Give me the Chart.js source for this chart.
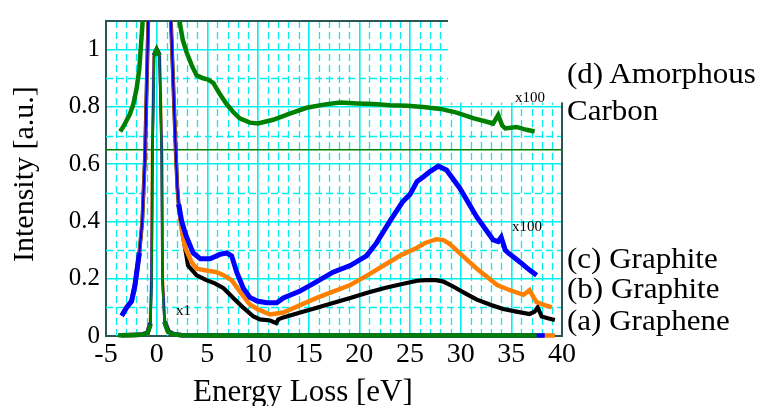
<!DOCTYPE html>
<html><head><meta charset="utf-8">
<script src="https://cdn.jsdelivr.net/npm/chart.js@4"></script>
<style>
html,body{margin:0;padding:0;background:#fff;}
#wrap{position:relative;width:760px;height:406px;overflow:hidden;font-family:"Liberation Serif","Times New Roman",serif;color:#000;}
canvas{position:absolute;left:0;top:0;}
.lbl{position:absolute;white-space:nowrap;line-height:1;}
.big{font-size:29px;transform:scaleX(1.07);transform-origin:0 0;}
.small{font-size:15px;}
</style></head><body>
<div id="wrap">
<canvas id="c" width="760" height="406"></canvas>
<div class="lbl" style="left:8.2px;top:262px;font-size:30px;transform-origin:0 0;transform:rotate(-90deg);">Intensity [a.u.]</div>
<div class="lbl" style="left:193px;top:375px;font-size:31px;">Energy Loss [eV]</div>
<div class="lbl big" style="left:567px;top:58.7px;">(d) Amorphous</div>
<div class="lbl big" style="left:567px;top:95.7px;">Carbon</div>
<div class="lbl big" style="left:567px;top:243.7px;">(c) Graphite</div>
<div class="lbl big" style="left:567px;top:273.7px;">(b) Graphite</div>
<div class="lbl big" style="left:567px;top:305.7px;">(a) Graphene</div>
<div class="lbl small" style="left:515px;top:90.4px;">x100</div>
<div class="lbl small" style="left:512px;top:219.4px;">x100</div>
<div class="lbl small" style="left:176px;top:303.4px;">x1</div>
</div>
<script>
// ---------- data (energy loss in eV, intensity in a.u. as plotted) ----------
const energyC = [-3.45,-2.96,-2.47,-2.14,-1.71,-1.42,-1.15,-0.83,0.3,1.41,1.9,2.04,2.17,2.47,2.9,3.6,4.3,5.26,6.25,6.9,7.4,7.9,8.55,9.2,9.9,10.86,11.85,12.5,14.1,15.8,17.4,19.1,20.7,21.7,23.0,24.3,25.0,25.7,26.3,27.0,27.8,28.6,29.9,31.6,33.2,33.7,34.0,34.4,34.7,35.9,36.8,37.5];
const graphiteC = [0.071,0.10,0.122,0.178,0.29,0.40,0.63,1.1,2.5,1.1,0.63,0.52,0.46,0.40,0.35,0.29,0.27,0.27,0.285,0.29,0.28,0.223,0.167,0.135,0.122,0.116,0.116,0.133,0.156,0.19,0.223,0.246,0.28,0.325,0.40,0.47,0.494,0.54,0.555,0.575,0.593,0.58,0.517,0.415,0.336,0.33,0.345,0.30,0.29,0.257,0.23,0.212];

const energyB = [-3.45,-2.96,-2.47,-2.14,-1.71,-1.42,-1.15,-0.83,0.3,1.41,1.9,2.04,2.17,2.47,2.8,3.46,3.95,4.9,5.9,6.6,7.4,8.2,9.2,10.0,11.2,12.5,14.0,15.8,17.4,19.1,20.7,22.4,24.0,25.7,26.5,27.6,28.3,28.9,30.2,31.6,33.6,35.0,36.2,36.8,37.2,37.5,38.3,39.0];
const graphiteB = [0.071,0.10,0.122,0.178,0.29,0.40,0.63,1.1,2.5,1.1,0.63,0.52,0.46,0.37,0.31,0.257,0.235,0.229,0.223,0.212,0.195,0.156,0.11,0.093,0.075,0.082,0.105,0.133,0.155,0.178,0.21,0.246,0.28,0.308,0.325,0.338,0.335,0.322,0.28,0.235,0.178,0.158,0.144,0.16,0.135,0.118,0.108,0.10];

const energyA = [-3.45,-2.96,-2.47,-2.14,-1.71,-1.42,-1.15,-0.83,0.3,1.41,1.9,2.04,2.17,2.6,3.1,3.95,4.9,5.75,6.6,7.56,8.55,9.55,10.2,11.2,11.8,12.0,12.5,14.0,15.8,17.4,19.1,20.7,22.4,24.0,25.7,26.5,27.6,28.3,29.3,30.5,31.6,33.0,34.2,35.5,36.8,37.3,37.6,38.0,38.6,39.3];
const grapheneA = [0.071,0.10,0.122,0.178,0.29,0.40,0.63,1.1,2.5,1.1,0.63,0.52,0.46,0.35,0.246,0.212,0.195,0.184,0.167,0.133,0.099,0.068,0.058,0.054,0.045,0.058,0.065,0.08,0.099,0.115,0.133,0.15,0.167,0.18,0.193,0.195,0.195,0.19,0.172,0.148,0.127,0.108,0.094,0.085,0.077,0.085,0.1,0.068,0.062,0.056];

const energyD = [-3.6,-3.29,-2.63,-2.3,-1.97,-1.71,-1.58,-1.4,0.45,2.3,2.57,2.96,3.46,3.95,4.6,5.1,5.6,6.25,6.9,7.56,8.2,9.2,10.0,11.5,13.0,14.8,16.5,18.1,19.8,21.4,23.0,24.7,26.3,28.0,29.6,31.3,32.4,33.2,33.7,34.1,34.4,35.5,36.5,37.3];
const amorphousD = [0.714,0.731,0.776,0.81,0.866,0.934,1.0,1.09,5.0,1.09,1.035,0.99,0.945,0.91,0.90,0.895,0.883,0.844,0.81,0.782,0.76,0.745,0.742,0.755,0.775,0.797,0.808,0.815,0.812,0.81,0.806,0.804,0.80,0.793,0.78,0.76,0.75,0.742,0.772,0.735,0.725,0.73,0.72,0.714];

// zero-loss peaks shown at x1
const zlpEnergyD = [-3.8,-2.5,-1.6,-0.9,-0.6,-0.48,-0.4,-0.24,0.0,0.26,0.49,0.55,0.75,1.1,1.6,2.5,5,10,15,20,25,30,35,37.5];
const zlpD = [0.003,0.003,0.004,0.01,0.04,0.2,0.63,0.98,1.0,0.98,0.63,0.2,0.05,0.015,0.006,0.003,0.002,0.002,0.002,0.002,0.002,0.002,0.002,0.002];
const zlpEnergyC = [-3.5,-1.6,-0.9,-0.62,-0.5,-0.42,-0.26,0.0,0.28,0.5,0.57,0.78,1.15,1.7,2.5,10,20,30,38.3];
const zlpC = [0.003,0.004,0.011,0.045,0.2,0.63,0.98,1.0,0.98,0.63,0.2,0.05,0.016,0.006,0.003,0.002,0.002,0.002,0.002];
const zlpEnergyB = [-3.5,-1.6,-0.9,-0.64,-0.52,-0.44,-0.28,0.0,0.3,0.52,0.59,0.8,1.2,1.7,2.5,10,20,30,39.3];
const zlpB = [0.003,0.004,0.011,0.045,0.2,0.63,0.98,1.0,0.98,0.63,0.2,0.05,0.016,0.006,0.003,0.002,0.002,0.002,0.002];

// baseline of the offset amorphous-carbon curve
const offsetEnergy = [-5, 40];
const offsetLevel = [0.65, 0.65];

// axes
const xTicks = [-5,0,5,10,15,20,25,30,35,40];
const xTickLabels = ['-5','0','5','10','15','20','25','30','35','40'];
const yTicks = [0,0.2,0.4,0.6,0.8,1.0];
const yTickLabels = ['0','0.2','0.4','0.6','0.8','1'];
const xMinor = [-4,-3,-2,-1,1,2,3,4,6,7,8,9,11,12,13,14,16,17,18,19,21,22,23,24,26,27,28,29,31,32,33,34,36,37,38,39];
const yMinor = [0.1,0.3,0.5,0.7,0.9];

// ---------- drawing ----------
const FONT = '"Liberation Serif","Times New Roman",serif';
const GRID = '#00f0f0';
const AXIS = '#2a5555';
const BOX_FROM_X = 28.75, BOX_TO_Y = 0.815;

const pts = (xs, ys) => xs.map((x, i) => ({x, y: ys[i]}));
const steep = (thick, thin) => ctx => {
  const dx = Math.abs(ctx.p1.x - ctx.p0.x), dy = Math.abs(ctx.p1.y - ctx.p0.y);
  return dy > 9 * dx ? thin : thick;
};

const decor = {
  id: 'decor',
  beforeDatasetsDraw(chart) {
    const {ctx, chartArea: a, scales: {x, y}} = chart;
    ctx.save();
    ctx.strokeStyle = GRID; ctx.lineWidth = 1.3; ctx.setLineDash([7, 4]);
    ctx.beginPath();
    xMinor.forEach(v => { const p = Math.round(x.getPixelForValue(v)) + 0.5; ctx.moveTo(p, a.top); ctx.lineTo(p, a.bottom); });
    yMinor.forEach(v => { const p = Math.round(y.getPixelForValue(v)) + 0.5; ctx.moveTo(a.left, p); ctx.lineTo(a.right, p); });
    ctx.stroke();
    ctx.setLineDash([]);
    const bx = x.getPixelForValue(BOX_FROM_X), by = y.getPixelForValue(BOX_TO_Y);
    ctx.fillStyle = '#fff';
    ctx.fillRect(bx, 0, chart.width - bx, by);
    ctx.strokeStyle = AXIS; ctx.lineWidth = 2;
    ctx.beginPath();
    ctx.moveTo(a.left, a.top); ctx.lineTo(bx, a.top);
    ctx.moveTo(a.right, by); ctx.lineTo(a.right, a.bottom + 1);
    ctx.stroke();
    ctx.restore();
  }
};

const base = {showLine: true, pointRadius: 0, tension: 0, fill: false};
const clipZ = {left: 0, top: 0, right: 0, bottom: 3};

new Chart(document.getElementById('c'), {
  type: 'scatter',
  data: {
    datasets: [
      {...base, label: 'd x1', data: pts(zlpEnergyD, zlpD), borderColor: '#008000', segment: {borderWidth: steep(4.5, 2)}, clip: clipZ},
      {...base, label: 'c x1', data: pts(zlpEnergyC, zlpC), borderColor: '#0000ff', segment: {borderWidth: steep(4.5, 2.6)}, clip: clipZ},
      {...base, label: 'b x1', data: pts(zlpEnergyB, zlpB), borderColor: '#ff8000', segment: {borderWidth: steep(4.5, 3)}, clip: clipZ},
      {...base, label: '(c) Graphite', data: pts(energyC, graphiteC), borderColor: '#0000ff', segment: {borderWidth: steep(5, 2.4)}, clip: 0},
      {...base, label: '(b) Graphite', data: pts(energyB, graphiteB), borderColor: '#ff8000', segment: {borderWidth: steep(4.5, 3.2)}, clip: 0},
      {...base, label: '(a) Graphene', data: pts(energyA, grapheneA), borderColor: '#000000', segment: {borderWidth: steep(4.2, 3.8)}, clip: 0},
      {...base, label: '(d) Amorphous Carbon', data: pts(energyD, amorphousD), borderColor: '#008000', borderWidth: 4.5, clip: 0},
      {...base, label: 'offset', data: pts(offsetEnergy, offsetLevel), borderColor: '#008000', borderWidth: 1.5, clip: 0}
    ]
  },
  options: {
    responsive: false,
    animation: false,
    devicePixelRatio: 1,
    layout: {padding: {top: 10, right: 198, bottom: 0, left: 0}},
    plugins: {legend: {display: false}, tooltip: {enabled: false}},
    scales: {
      x: {
        type: 'linear', min: -5, max: 40,
        afterBuildTicks: s => { s.ticks = xTicks.map(v => ({value: v})); },
        afterFit: s => { s.height = 70; },
        ticks: {font: {family: FONT, size: 28, lineHeight: 1}, color: '#000', padding: 5, maxRotation: 0, autoSkip: false,
                callback: (v, i) => xTickLabels[i]},
        grid: {color: GRID, lineWidth: 1.6, drawTicks: false},
        border: {color: AXIS, width: 2}
      },
      y: {
        type: 'linear', min: 0, max: 1.1,
        afterBuildTicks: s => { s.ticks = yTicks.map(v => ({value: v})); },
        afterFit: s => { s.width = 106; },
        ticks: {font: {family: FONT, size: 25}, color: '#000', padding: 6, autoSkip: false,
                callback: (v, i) => yTickLabels[i]},
        grid: {color: GRID, lineWidth: 1.6, drawTicks: false},
        border: {color: AXIS, width: 2}
      }
    }
  },
  plugins: [decor]
});
</script>
</body></html>
